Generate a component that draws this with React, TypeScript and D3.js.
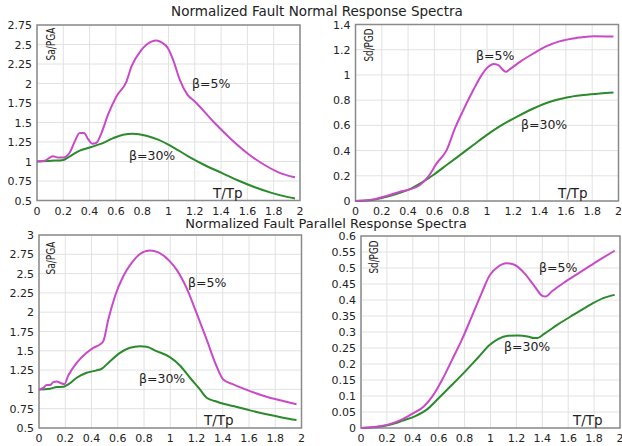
import React from "react";
import * as d3 from "d3";

// ---------- Data ----------
const TITLE_TOP = "Normalized Fault Normal Response Spectra";
const TITLE_BOTTOM = "Normalized Fault Parallel Response Spectra";

const X_TICKS = [0, 0.2, 0.4, 0.6, 0.8, 1, 1.2, 1.4, 1.6, 1.8, 2];

// Panel 1: Fault Normal Sa/PGA
const FN_SA_Y_TICKS = [0.5, 0.75, 1, 1.25, 1.5, 1.75, 2, 2.25, 2.5, 2.75];
const FN_SA5_T = [0, 0.058, 0.122, 0.16, 0.2, 0.25, 0.287, 0.325, 0.358, 0.388, 0.42, 0.45, 0.49, 0.54, 0.604, 0.68, 0.718, 0.794, 0.87, 0.909, 0.947, 0.997, 1.036, 1.086, 1.145, 1.2, 1.353, 1.48, 1.607, 1.734, 1.86, 1.962];
const FN_SA5_V = [1.0, 1.01, 1.067, 1.05, 1.05, 1.118, 1.258, 1.365, 1.365, 1.288, 1.229, 1.237, 1.365, 1.6, 1.834, 2.025, 2.217, 2.43, 2.537, 2.55, 2.528, 2.45, 2.3, 2.047, 1.855, 1.77, 1.49, 1.28, 1.097, 0.952, 0.845, 0.798];
const FN_SA30_T = [0, 0.11, 0.19, 0.25, 0.325, 0.414, 0.49, 0.58, 0.655, 0.73, 0.832, 0.921, 1.023, 1.15, 1.277, 1.404, 1.53, 1.657, 1.784, 1.91, 1.962];
const FN_SA30_V = [1.0, 1.01, 1.015, 1.067, 1.139, 1.186, 1.229, 1.3, 1.344, 1.356, 1.33, 1.28, 1.195, 1.067, 0.952, 0.854, 0.756, 0.67, 0.598, 0.543, 0.526];

// Panel 2: Fault Normal Sd/PGD
const FN_SD_Y_TICKS = [0, 0.2, 0.4, 0.6, 0.8, 1, 1.2, 1.4];
const FN_SD5_T = [0, 0.135, 0.236, 0.338, 0.414, 0.49, 0.553, 0.617, 0.693, 0.756, 0.82, 0.896, 0.959, 1.01, 1.048, 1.086, 1.112, 1.142, 1.175, 1.251, 1.353, 1.454, 1.556, 1.683, 1.81, 1.962];
const FN_SD5_V = [0, 0.013, 0.04, 0.074, 0.092, 0.127, 0.193, 0.298, 0.404, 0.576, 0.721, 0.88, 0.998, 1.064, 1.086, 1.078, 1.051, 1.025, 1.046, 1.104, 1.17, 1.228, 1.268, 1.294, 1.307, 1.305];
const FN_SD30_T = [0, 0.135, 0.236, 0.338, 0.426, 0.515, 0.591, 0.693, 0.794, 0.896, 0.997, 1.099, 1.226, 1.353, 1.48, 1.607, 1.734, 1.86, 1.962];
const FN_SD30_V = [0, 0.01, 0.034, 0.066, 0.1, 0.153, 0.206, 0.285, 0.364, 0.444, 0.523, 0.594, 0.668, 0.734, 0.787, 0.821, 0.84, 0.853, 0.861];

// Panel 3: Fault Parallel Sa/PGA
const FP_SA_Y_TICKS = [0.5, 0.75, 1, 1.25, 1.5, 1.75, 2, 2.25, 2.5, 2.75, 3];
const FP_SA5_T = [0, 0.033, 0.058, 0.084, 0.109, 0.135, 0.16, 0.193, 0.223, 0.287, 0.363, 0.414, 0.464, 0.49, 0.528, 0.579, 0.642, 0.706, 0.769, 0.845, 0.909, 0.997, 1.048, 1.124, 1.2, 1.277, 1.353, 1.404, 1.48, 1.607, 1.734, 1.86, 1.962];
const FP_SA5_V = [1.0, 1.02, 1.056, 1.056, 1.095, 1.103, 1.086, 1.069, 1.18, 1.345, 1.474, 1.539, 1.582, 1.625, 1.905, 2.207, 2.466, 2.638, 2.754, 2.8, 2.776, 2.659, 2.552, 2.315, 1.99, 1.647, 1.3, 1.129, 1.065, 0.978, 0.905, 0.849, 0.806];
const FP_SA30_T = [0, 0.084, 0.135, 0.185, 0.223, 0.287, 0.363, 0.439, 0.477, 0.541, 0.617, 0.693, 0.769, 0.82, 0.896, 0.997, 1.074, 1.15, 1.226, 1.277, 1.34, 1.378, 1.48, 1.607, 1.734, 1.86, 1.962];
const FP_SA30_V = [1.0, 1.009, 1.03, 1.034, 1.065, 1.151, 1.216, 1.246, 1.267, 1.366, 1.474, 1.539, 1.56, 1.552, 1.496, 1.418, 1.31, 1.151, 1.0, 0.892, 0.849, 0.828, 0.784, 0.728, 0.677, 0.634, 0.603];

// Panel 4: Fault Parallel Sd/PGD
const FP_SD_Y_TICKS = [0, 0.05, 0.1, 0.15, 0.2, 0.25, 0.3, 0.35, 0.4, 0.45, 0.5, 0.55, 0.6];
const FP_SD5_T = [0, 0.119, 0.221, 0.322, 0.398, 0.487, 0.551, 0.627, 0.703, 0.779, 0.855, 0.931, 0.995, 1.058, 1.122, 1.185, 1.261, 1.338, 1.401, 1.426, 1.477, 1.566, 1.693, 1.82, 1.959];
const FP_SD5_V = [0, 0.004, 0.012, 0.028, 0.045, 0.068, 0.099, 0.151, 0.213, 0.276, 0.348, 0.421, 0.478, 0.504, 0.515, 0.51, 0.484, 0.444, 0.413, 0.411, 0.428, 0.454, 0.487, 0.52, 0.554];
const FP_SD30_T = [0, 0.119, 0.221, 0.322, 0.424, 0.513, 0.601, 0.703, 0.805, 0.906, 0.995, 1.058, 1.135, 1.211, 1.287, 1.338, 1.363, 1.414, 1.515, 1.642, 1.769, 1.871, 1.959];
const FP_SD30_V = [0, 0.003, 0.01, 0.023, 0.038, 0.059, 0.094, 0.135, 0.177, 0.221, 0.26, 0.278, 0.288, 0.289, 0.286, 0.281, 0.281, 0.294, 0.322, 0.354, 0.385, 0.406, 0.416];

const LABEL_5 = "β=5%";
const LABEL_30 = "β=30%";
const X_LABEL = "T/Tp";

// ---------- Styles ----------
const C5 = "#c94ac9";
const C30 = "#2b8a2b";
const FONT = "DejaVu Sans, Verdana, sans-serif";

type PanelProps = {
  left: number; right: number; top: number; bottom: number;
  yTicks: number[]; yLabel: string;
  t5: number[]; v5: number[]; t30: number[]; v30: number[];
  l5: [number, number]; l30: [number, number]; lx: [number, number];
  yLabelPos: [number, number];
};

const fmt = (v: number) => String(+v.toFixed(2));

function Panel(p: PanelProps) {
  const yMin = p.yTicks[0];
  const yMax = p.yTicks[p.yTicks.length - 1];
  const x = d3.scaleLinear().domain([0, 2]).range([p.left, p.right]);
  const y = d3.scaleLinear().domain([yMin, yMax]).range([p.bottom, p.top]);
  const line = d3
    .line<[number, number]>()
    .x((d) => x(d[0]))
    .y((d) => y(d[1]))
    .curve(d3.curveMonotoneX);
  const d5 = line(p.t5.map((t, i) => [t, p.v5[i]]) as [number, number][]) || "";
  const d30 = line(p.t30.map((t, i) => [t, p.v30[i]]) as [number, number][]) || "";
  return (
    <g>
      {X_TICKS.map((t) => (
        <line key={"gx" + t} x1={x(t)} x2={x(t)} y1={p.top} y2={p.bottom} stroke="#e2e2e2" strokeWidth={1} />
      ))}
      {p.yTicks.map((v) => (
        <line key={"gy" + v} x1={p.left} x2={p.right} y1={y(v)} y2={y(v)} stroke="#e2e2e2" strokeWidth={1} />
      ))}
      <rect x={p.left} y={p.top} width={p.right - p.left} height={p.bottom - p.top} fill="none" stroke="#8a8a8a" strokeWidth={1.5} />
      {X_TICKS.map((t) => (
        <text key={"tx" + t} x={x(t)} y={p.bottom + 14} textAnchor="middle" fontSize={11} fontFamily={FONT} fill="#222">
          {fmt(t)}
        </text>
      ))}
      {p.yTicks.map((v) => (
        <text key={"ty" + v} x={p.left - 5} y={y(v) + 4} textAnchor="end" fontSize={11} fontFamily={FONT} fill="#222">
          {fmt(v)}
        </text>
      ))}
      <path d={d30} fill="none" stroke={C30} strokeWidth={2} />
      <path d={d5} fill="none" stroke={C5} strokeWidth={2} />
      <text x={p.l5[0]} y={p.l5[1]} fontSize={12.5} fontFamily={FONT} fill="#222">{LABEL_5}</text>
      <text x={p.l30[0]} y={p.l30[1]} fontSize={12.5} fontFamily={FONT} fill="#222">{LABEL_30}</text>
      <text x={p.lx[0]} y={p.lx[1]} fontSize={13.5} fontFamily={FONT} fill="#222">{X_LABEL}</text>
      <text
        transform={`translate(${p.yLabelPos[0]},${p.yLabelPos[1]}) rotate(-90)`}
        textAnchor="middle"
        fontSize={13}
        fontFamily={FONT}
        fill="#222"
        textLength={33}
        lengthAdjust="spacingAndGlyphs"
      >
        {p.yLabel}
      </text>
    </g>
  );
}

export default function App() {
  return (
    <svg
      width={622}
      height={446}
      style={{ position: "absolute", left: 0, top: 0, background: "#fff" }}
    >
      <rect x={0} y={0} width={622} height={446} fill="#fff" />
      <text x={317} y={16} textAnchor="middle" fontSize={13.5} fontFamily={FONT} fill="#222">{TITLE_TOP}</text>
      <text x={326} y={228} textAnchor="middle" fontSize={13} fontFamily={FONT} fill="#222">{TITLE_BOTTOM}</text>
      <Panel
        left={37} right={300} top={25} bottom={200.5}
        yTicks={FN_SA_Y_TICKS} yLabel="Sa/PGA"
        t5={FN_SA5_T} v5={FN_SA5_V} t30={FN_SA30_T} v30={FN_SA30_V}
        l5={[192, 88]} l30={[129, 160]} lx={[213, 198]} yLabelPos={[55, 44]}
      />
      <Panel
        left={355.5} right={618.5} top={24.5} bottom={201}
        yTicks={FN_SD_Y_TICKS} yLabel="Sd/PGD"
        t5={FN_SD5_T} v5={FN_SD5_V} t30={FN_SD30_T} v30={FN_SD30_V}
        l5={[476, 60]} l30={[521, 129]} lx={[558, 198]} yLabelPos={[373, 45]}
      />
      <Panel
        left={39} right={301.5} top={235} bottom={428}
        yTicks={FP_SA_Y_TICKS} yLabel="Sa/PGA"
        t5={FP_SA5_T} v5={FP_SA5_V} t30={FP_SA30_T} v30={FP_SA30_V}
        l5={[188, 287]} l30={[139, 383]} lx={[204, 425]} yLabelPos={[55, 258]}
      />
      <Panel
        left={361} right={620} top={236} bottom={428}
        yTicks={FP_SD_Y_TICKS} yLabel="Sd/PGD"
        t5={FP_SD5_T} v5={FP_SD5_V} t30={FP_SD30_T} v30={FP_SD30_V}
        l5={[539, 272]} l30={[504, 351]} lx={[573, 425]} yLabelPos={[378, 257]}
      />
    </svg>
  );
}
